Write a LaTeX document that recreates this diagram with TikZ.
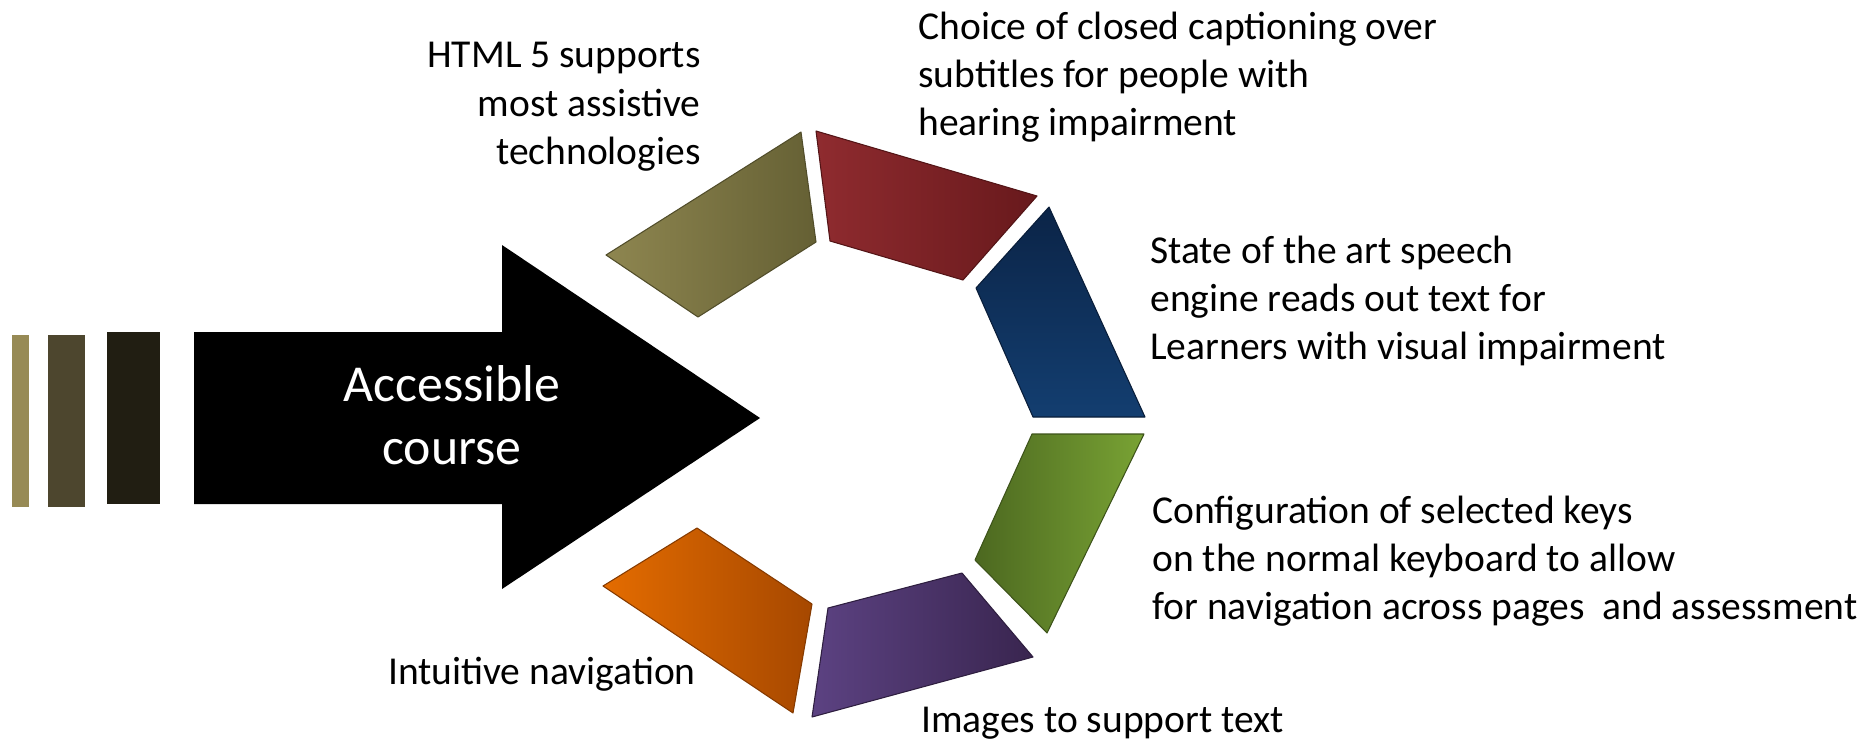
\documentclass[tikz,border=0pt]{standalone}
\usepackage{fontspec}
\setmainfont{Carlito}

\definecolor{barA}{HTML}{978A55}
\definecolor{barB}{HTML}{4D462E}
\definecolor{barC}{HTML}{211E12}
\definecolor{oliveL}{HTML}{8E8650}
\definecolor{oliveR}{HTML}{656034}
\definecolor{redL}{HTML}{8F2B2F}
\definecolor{redR}{HTML}{68191C}
\definecolor{blueT}{HTML}{0B2447}
\definecolor{blueB}{HTML}{133E70}
\definecolor{greenL}{HTML}{4C6820}
\definecolor{greenR}{HTML}{79A334}
\definecolor{purpleL}{HTML}{5C4282}
\definecolor{purpleR}{HTML}{39254F}
\definecolor{orangeL}{HTML}{E46C00}
\definecolor{orangeR}{HTML}{A64800}

\tikzset{
  txt/.style={font=\fontsize{22.5}{27.5}\selectfont, inner sep=0pt},
  seg/.style={line join=round, draw=#1, line width=0.6pt},
}

\begin{document}
\begin{tikzpicture}[x=0.02cm, y=-0.02cm]
	\useasboundingbox (0,0) rectangle (1875,741);

	% paski
	\foreach \xa/\xb/\ya/\yb/\c in {12/29/335/507/barA, 48/85/335/507/barB, 107/160/332/504/barC} {{
	     \fill[\c] (\xa,\ya) rectangle (\xb,\yb);
	}}

	% strzalka
	\fill[black] (194,332) -- (502,332) -- (502,245) -- (760,418) -- (502,589) -- (502,504) -- (194,504) -- cycle;
	\node[font=\fontsize{29.5}{36}\selectfont, text=white, align=center, inner sep=0pt] (course) at (452,415) {Accessible\\course};

	% segmenty
	\shade[seg=oliveR!80!black, left color=oliveL, right color=oliveR] (606,255) -- (801,132) -- (816,242) -- (698,317) -- cycle;
	\shade[seg=redR!80!black, left color=redL, right color=redR] (816,131) -- (1037,196) -- (963,280) -- (830,241) -- cycle;
	\shade[seg=blueT!80!black, top color=blueT, bottom color=blueB] (1049,207) -- (1145,417) -- (1033,417) -- (976,288) -- cycle;
	\shade[seg=greenL!80!black, left color=greenL, right color=greenR] (1144,434) -- (1032,434) -- (975,560) -- (1047,633) -- cycle;
	\shade[seg=purpleR!80!black, left color=purpleL, right color=purpleR] (962,573) -- (1033,657) -- (812,717) -- (828,608) -- cycle;
	\shade[seg=orangeR!80!black, left color=orangeL, right color=orangeR] (697,528) -- (603,586) -- (793,713) -- (812,604) -- cycle;

	% opisy
	\node[txt, anchor=east, align=right] (html) at (701,107) {HTML 5 supports\\most assistive\\technologies};
	\node[txt, anchor=west, align=left] (choice) at (918,77) {Choice of closed captioning over\\subtitles for people with\\hearing impairment};
	\node[txt, anchor=west, align=left] (speech) at (1150,301) {State of the art speech\\engine reads out text for\\Learners with visual impairment};
	\node[txt, anchor=west, align=left] (keys) at (1152,561) {Configuration of selected keys\\on the normal keyboard to allow\\for navigation across pages\ \ and assessment};
	\node[txt, anchor=west] (images) at (921,723) {Images to support text};
	\node[txt, anchor=east] (intuitive) at (696,674) {Intuitive navigation};
\end{tikzpicture}
\end{document}
